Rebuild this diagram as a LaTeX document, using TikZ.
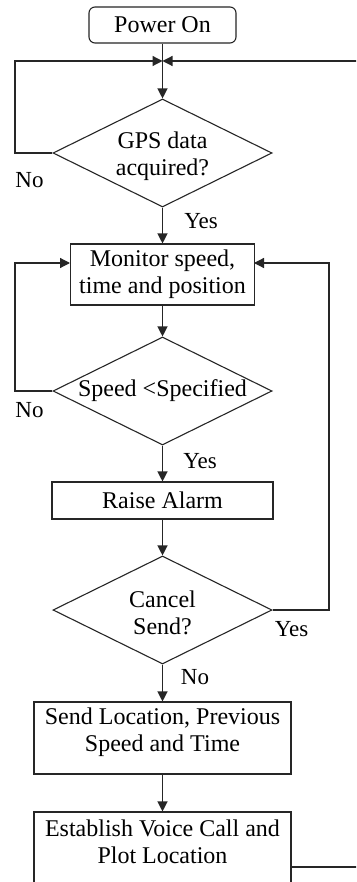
\documentclass[tikz,border=0pt]{standalone}
\usepackage{fontspec}
\setmainfont{Liberation Serif}
\usetikzlibrary{shapes.geometric,arrows.meta}
\begin{document}
\begin{tikzpicture}[x=1pt,y=-1pt,
  ln/.style={draw=black!85, line width=1.2pt},
  arr/.style={ln, -{Triangle[length=10pt,width=10pt]}},
  box/.style={draw=black!85, line width=1.1pt, rectangle, inner sep=0pt},
  dia/.style={draw=black!85, line width=1.1pt, diamond, inner sep=0pt, minimum width=219pt, minimum height=108pt},
  txt/.style={align=center, inner sep=0pt, font=\fontsize{24}{27}\selectfont},
  lbl/.style={inner sep=0pt, font=\fontsize{23}{27}\selectfont}]
\useasboundingbox (0,0) rectangle (356,882);
\clip (0,0) rectangle (356,882);
\fill[white] (0,0) rectangle (356,882);
% nodes
\node[box, rounded corners=6pt, minimum width=147pt, minimum height=36pt] (pow) at (162.5,25) {};
\node[txt] at (pow.center) {Power On};
\coordinate (j) at (162.5,61);
\node[dia] (gps) at (162.5,153) {};
\node[txt] at ([yshift=-3pt]gps.center) {GPS data\\acquired?};
\node[box, minimum width=184pt, minimum height=61pt] (mon) at (162.5,274.5) {};
\node[txt] at (mon.center) {Monitor speed,\\time and position};
\node[dia] (spd) at (162.5,391) {};
\node[txt] at (spd.center) {Speed <Specified};
\node[box, minimum width=221pt, minimum height=37pt] (ral) at (162.5,500.5) {};
\node[txt] at (ral.center) {Raise Alarm};
\node[dia] (can) at (162.5,610) {};
\node[txt] at ([yshift=-3pt]can.center) {Cancel\\Send?};
\node[box, minimum width=257pt, minimum height=72pt] (snd) at (162.5,738) {};
\node[txt] at ([yshift=6pt]snd.center) {Send Location, Previous\\Speed and Time};
\node[box, minimum width=257pt, minimum height=72pt] (est) at (162.5,848) {};
\node[txt] at ([yshift=6pt]est.center) {Establish Voice Call and\\Plot Location};
% labels
\node[lbl] at (29.5,180) {No};
\node[lbl] at (201,221) {Yes};
\node[lbl] at (29.5,410) {No};
\node[lbl] at (200,461) {Yes};
\node[lbl] at (291.5,629) {Yes};
\node[lbl] at (195,677.5) {No};
% connectors
\coordinate (gl) at (15,61);
\coordinate (jr) at (360,61);
\draw[ln] (pow.south) -- (j);
\draw[arr] (j) -- (gps.north);
\draw[arr] (gps.west) -| (gl) -- (j);
\draw[arr] (jr) -- (j);
\draw[arr] (gps.south) -- (mon.north);
\draw[arr] (mon.south) -- (spd.north);
\coordinate (ml) at (70,263);
\coordinate (mr) at (254,263);
\draw[arr] (spd.west) -- (15,391) |- (ml);
\draw[arr] (spd.south) -- (ral.north);
\draw[arr] (ral.south) -- (can.north);
\draw[arr] (can.east) -- (329,610) |- (mr);
\draw[arr] (can.south) -- (snd.north);
\draw[arr] (snd.south) -- (est.north);
\coordinate (er) at (360,867);
\draw[ln] (est.east |- er) -- (er) -- (jr);
\end{tikzpicture}
\end{document}
